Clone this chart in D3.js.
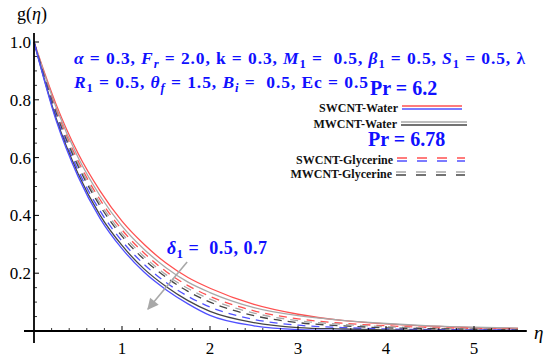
<!DOCTYPE html>
<html>
<head>
<meta charset="utf-8">
<script src="https://cdn.jsdelivr.net/npm/d3@7"></script>
<style>
  body { margin: 0; background: #fff; }
  svg text { white-space: pre; font-family: "Liberation Serif", "DejaVu Serif", "Times New Roman", serif; }
</style>
</head>
<body>
<script>
// eta grid and g(eta) curves
const eta = [0, 0.25, 0.5, 0.75, 1, 1.25, 1.5, 1.75, 2, 2.5, 3, 3.5, 4, 4.5, 5, 5.5];

const swWaterD05 = [1, 0.785, 0.615, 0.485, 0.38, 0.30, 0.235, 0.185, 0.148, 0.092, 0.058, 0.037, 0.025, 0.017, 0.012, 0.009];
const mwWaterD05 = [1, 0.775, 0.601, 0.468, 0.363, 0.283, 0.219, 0.169, 0.133, 0.081, 0.053, 0.037, 0.026, 0.018, 0.013, 0.010];
const swGlyD05 = [1, 0.767, 0.589, 0.455, 0.350, 0.270, 0.206, 0.157, 0.120, 0.070, 0.042, 0.027, 0.018, 0.012, 0.009, 0.006];
const mwGlyD05 = [1, 0.761, 0.580, 0.443, 0.338, 0.258, 0.195, 0.147, 0.110, 0.062, 0.036, 0.023, 0.015, 0.010, 0.007, 0.005];
const mwGlyD07 = [1, 0.755, 0.571, 0.433, 0.328, 0.248, 0.186, 0.137, 0.100, 0.053, 0.029, 0.018, 0.011, 0.008, 0.006, 0.004];
const swGlyD07 = [1, 0.745, 0.557, 0.416, 0.311, 0.231, 0.168, 0.120, 0.083, 0.040, 0.020, 0.012, 0.007, 0.005, 0.004, 0.003];
const mwWaterD07 = [1, 0.737, 0.545, 0.401, 0.296, 0.215, 0.154, 0.105, 0.068, 0.029, 0.012, 0.007, 0.004, 0.003, 0.002, 0.001];
const swWaterD07 = [1, 0.730, 0.535, 0.390, 0.285, 0.204, 0.143, 0.094, 0.054, 0.018, 0.005, 0.002, 0.001, 0.001, 0.000, 0.000];

const xTicks = [1, 2, 3, 4, 5];
const yTicks = [0.2, 0.4, 0.6, 0.8, 1.0];
const legendNames = ["SWCNT-Water", "MWCNT-Water", "SWCNT-Glycerine", "MWCNT-Glycerine"];
const prLabels = ["Pr = 6.2", "Pr = 6.78"];

const red = "#ff5050";
const blue = "#5050ff";
const darkGray = "#454545";
const lightGray = "#a8a8a8";
const textBlue = "#1010ff";

const series = [
  { values: swWaterD05, color: red, dashed: false },
  { values: mwWaterD05, color: lightGray, dashed: false },
  { values: swGlyD05, color: red, dashed: true },
  { values: mwGlyD05, color: lightGray, dashed: true },
  { values: mwGlyD07, color: darkGray, dashed: true },
  { values: swGlyD07, color: blue, dashed: true },
  { values: mwWaterD07, color: darkGray, dashed: false },
  { values: swWaterD07, color: blue, dashed: false },
];

const width = 550;
const height = 359;

const svg = d3.select("body")
  .append("svg")
  .attr("width", width)
  .attr("height", height);

const x = d3.scaleLinear().domain([0, 5]).range([34, 474]);
const y = d3.scaleLinear().domain([0, 1]).range([331, 42]);

// curves
const line = d3.line()
  .x((d) => x(d[0]))
  .y((d) => y(d[1]))
  .curve(d3.curveMonotoneX);

const curveLayer = svg.append("g");
series.forEach((s) => {
  curveLayer.append("path")
    .attr("d", line(eta.map((e, i) => [e, s.values[i]])))
    .attr("fill", "none")
    .attr("stroke", s.color)
    .attr("stroke-width", 1.3)
    .attr("stroke-dasharray", s.dashed ? "8,6" : null);
});

// axes
const axisLayer = svg.append("g");
axisLayer.append("line")
  .attr("x1", 24).attr("x2", x(5.6))
  .attr("y1", y(0)).attr("y2", y(0))
  .attr("stroke", "#000").attr("stroke-width", 1.8);
axisLayer.append("line")
  .attr("x1", x(0)).attr("x2", x(0))
  .attr("y1", 33).attr("y2", 343)
  .attr("stroke", "#000").attr("stroke-width", 1.8);

const xMinor = d3.range(0.2, 5.6, 0.2).filter((v) => Math.abs(v - Math.round(v)) > 0.01);
const yMinor = d3.range(0.05, 1.02, 0.05).filter((v) => Math.abs(v * 5 - Math.round(v * 5)) > 0.01);

axisLayer.selectAll(".xmaj").data(xTicks).join("line")
  .attr("x1", (d) => x(d)).attr("x2", (d) => x(d))
  .attr("y1", y(0)).attr("y2", y(0) - 5)
  .attr("stroke", "#000").attr("stroke-width", 1);
axisLayer.selectAll(".xmin").data(xMinor).join("line")
  .attr("x1", (d) => x(d)).attr("x2", (d) => x(d))
  .attr("y1", y(0)).attr("y2", y(0) - 3)
  .attr("stroke", "#000").attr("stroke-width", 0.8);
axisLayer.selectAll(".ymaj").data(yTicks).join("line")
  .attr("x1", x(0)).attr("x2", x(0) + 5)
  .attr("y1", (d) => y(d)).attr("y2", (d) => y(d))
  .attr("stroke", "#000").attr("stroke-width", 1);
axisLayer.selectAll(".ymin").data(yMinor).join("line")
  .attr("x1", x(0)).attr("x2", x(0) + 3)
  .attr("y1", (d) => y(d)).attr("y2", (d) => y(d))
  .attr("stroke", "#000").attr("stroke-width", 0.8);

axisLayer.selectAll(".xlab").data(xTicks).join("text")
  .attr("x", (d) => x(d)).attr("y", 354)
  .attr("text-anchor", "middle")
  .attr("font-size", 17)
  .text((d) => d);
axisLayer.selectAll(".ylab").data(yTicks).join("text")
  .attr("x", 31).attr("y", (d) => y(d) + 6)
  .attr("text-anchor", "end")
  .attr("font-size", 17)
  .text((d) => d.toFixed(1));

const yTitle = axisLayer.append("text")
  .attr("x", 17).attr("y", 20)
  .attr("font-size", 18);
yTitle.append("tspan").text("g(");
yTitle.append("tspan").attr("font-style", "italic").text("η");
yTitle.append("tspan").text(")");

axisLayer.append("text")
  .attr("x", 534).attr("y", 339)
  .attr("font-size", 19)
  .attr("font-style", "italic")
  .text("η");

// rich text helper: parts are [text, italic, subscript]
function richText(px, py, parts, size, fitWidth) {
  const t = svg.append("text")
    .attr("x", px).attr("y", py)
    .attr("font-weight", "bold")
    .attr("font-size", size)
    .attr("fill", textBlue);
  let shift = 0;
  parts.forEach(([str, italic, sub]) => {
    const target = sub ? Math.round(size * 0.22) : 0;
    const span = t.append("tspan").text(str).attr("dy", target - shift);
    shift = target;
    if (italic) span.attr("font-style", "italic");
    if (sub) span.attr("font-size", size * 0.72);
  });
  if (fitWidth) t.attr("textLength", fitWidth).attr("lengthAdjust", "spacing");
  return t;
}

richText(74, 64, [
  ["α", true], [" = 0.3, "], ["F", true], ["r", true, true], [" = 2.0, k = 0.3, "],
  ["M", true], ["1", false, true], [" =  0.5, "], ["β", true], ["1", false, true],
  [" = 0.5, "], ["S", true], ["1", false, true], [" = 0.5, λ"],
], 17.5, 451);

richText(74, 88, [
  ["R", true], ["1", false, true], [" = 0.5, "], ["θ", true], ["f", true, true],
  [" = 1.5, "], ["B", true], ["i", true, true], [" =  0.5, Ec = 0.5"],
], 17.5, 294);

richText(370, 95, [[prLabels[0]]], 20);
richText(368, 146, [[prLabels[1]]], 20);

richText(x(1.51), y(0.266), [
  ["δ", true], ["1", false, true], [" =  0.5, 0.7"],
], 18, 100);

// arrow
const arrowStart = [1.74, 0.239];
const arrowEnd = [1.295, 0.076];
svg.append("defs").append("marker")
  .attr("id", "head")
  .attr("viewBox", "0 0 10 10")
  .attr("refX", 9).attr("refY", 5)
  .attr("markerWidth", 8).attr("markerHeight", 7)
  .attr("markerUnits", "strokeWidth")
  .attr("orient", "auto")
  .append("path")
  .attr("d", "M0,0 L10,5 L0,10 Z")
  .attr("fill", "#a8a8a8");
svg.append("line")
  .attr("x1", x(arrowStart[0])).attr("y1", y(arrowStart[1]))
  .attr("x2", x(arrowEnd[0])).attr("y2", y(arrowEnd[1]))
  .attr("stroke", "#a8a8a8")
  .attr("stroke-width", 1.6)
  .attr("marker-end", "url(#head)");

// legend
const legendRows = [
  { name: legendNames[0], right: 398, base: 112, top: red, bottom: blue, x2: 462, dashed: false },
  { name: legendNames[1], right: 397, base: 128, top: lightGray, bottom: darkGray, x2: 467, dashed: false },
  { name: legendNames[2], right: 393, base: 164, top: red, bottom: blue, x2: 465, dashed: true },
  { name: legendNames[3], right: 392, base: 178, top: lightGray, bottom: darkGray, x2: 465, dashed: true },
];

const legend = svg.append("g");
legendRows.forEach((r) => {
  legend.append("text")
    .attr("x", r.right).attr("y", r.base)
    .attr("text-anchor", "end")
    .attr("font-weight", "bold")
    .attr("font-size", 12)
    .attr("fill", "#111")
    .text(r.name);
  [[r.top, -6], [r.bottom, -3]].forEach(([c, dy]) => {
    legend.append("line")
      .attr("x1", r.right + 4).attr("x2", r.x2)
      .attr("y1", r.base + dy).attr("y2", r.base + dy)
      .attr("stroke", c)
      .attr("stroke-width", 1.3)
      .attr("stroke-dasharray", r.dashed ? "10,10" : null);
  });
});
</script>
</body>
</html>
